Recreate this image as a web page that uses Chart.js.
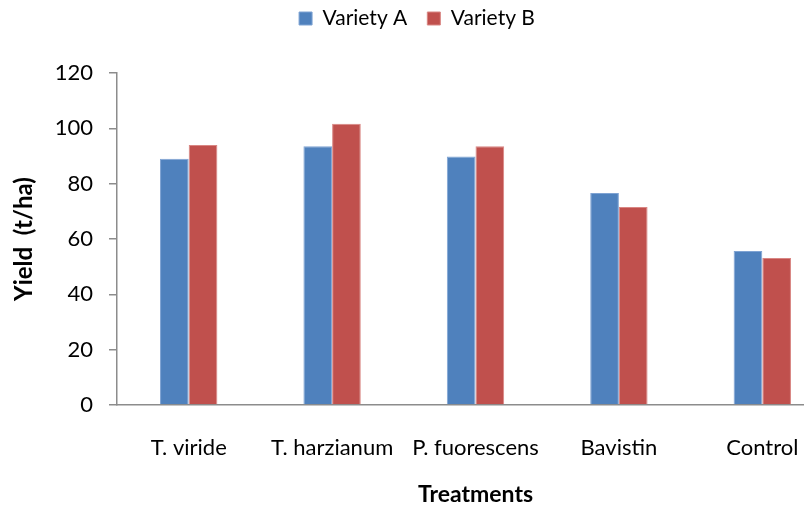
<!DOCTYPE html>
<html>
<head>
<meta charset="utf-8">
<script src="https://cdn.jsdelivr.net/npm/chart.js@4/dist/chart.umd.min.js"></script>
<style>
  html, body { margin: 0; padding: 0; background: #fff; overflow: hidden; }
  #wrap { width: 840px; height: 512px; }
</style>
</head>
<body>
<div id="wrap"><canvas id="grafico"></canvas></div>
<script>
// Dados do gráfico
const tratamentos = ["T. viride", "T. harzianum", "P. fuorescens", "Bavistin", "Control"];
const variedadeA = [89, 93.5, 89.8, 76.6, 55.7];
const variedadeB = [94, 101.7, 93.5, 71.6, 53.1];
const ticksY = [0, 20, 40, 60, 80, 100, 120];

const fonte = "Lato, 'Open Sans', sans-serif";
const corEixo = "#8c8c8c";

// Espaço extra abaixo da legenda
const espacoLegenda = {
  id: "espacoLegenda",
  beforeInit(chart) {
    const fitOriginal = chart.legend.fit;
    chart.legend.fit = function () {
      fitOriginal.bind(chart.legend)();
      this.height += 34;
    };
  }
};

new Chart(document.getElementById("grafico"), {
  type: "bar",
  data: {
    labels: tratamentos,
    datasets: [
      { label: "Variety A", data: variedadeA, backgroundColor: "#4F81BD", borderColor: "#7fa3d3", borderWidth: 1 },
      { label: "Variety B", data: variedadeB, backgroundColor: "#C0504D", borderColor: "#d98683", borderWidth: 1 }
    ]
  },
  plugins: [espacoLegenda],
  options: {
    responsive: true,
    maintainAspectRatio: false,
    animation: false,
    layout: { padding: { top: -12, right: 6, left: 0, bottom: 0 } },
    datasets: { bar: { categoryPercentage: 0.4, barPercentage: 1.0 } },
    plugins: {
      legend: {
        position: "top",
        labels: {
          boxWidth: 13, boxHeight: 13, padding: 20,
          color: "#000",
          font: { family: fonte, size: 21 }
        }
      },
      tooltip: { enabled: false }
    },
    scales: {
      x: {
        grid: { display: false },
        border: { display: true, color: corEixo, width: 1.5 },
        ticks: { color: "#000", padding: 22, font: { family: fonte, size: 22 }, maxRotation: 0 },
        title: { display: true, text: "Treatments", color: "#000", padding: { top: 10, bottom: 4 }, font: { family: fonte, size: 23, weight: "bold" } },
        afterFit: s => { s.height = 107; }
      },
      y: {
        min: 0,
        max: 120,
        afterBuildTicks: s => { s.ticks = ticksY.map(v => ({ value: v })); },
        grid: { drawOnChartArea: false, drawTicks: true, tickLength: 8, color: corEixo, lineWidth: 1.5 },
        border: { display: true, color: corEixo, width: 1.5 },
        ticks: { color: "#000", padding: 16, font: { family: fonte, size: 22 } },
        title: { display: true, text: "Yield  (t/ha)", color: "#000", padding: { top: 10, bottom: 0 }, font: { family: fonte, size: 24, weight: "bold" } },
        afterFit: s => { s.width = 117; }
      }
    }
  }
});
</script>
</body>
</html>
